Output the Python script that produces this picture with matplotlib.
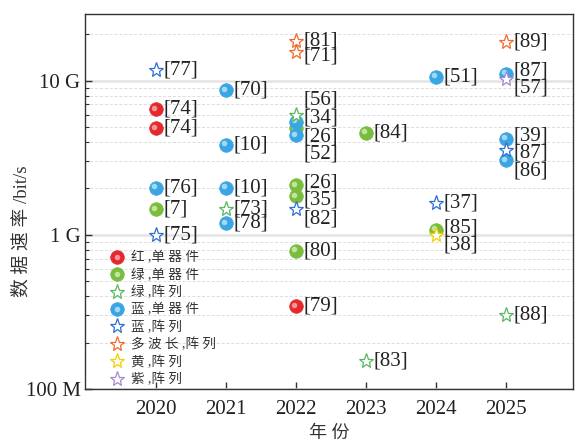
import matplotlib
matplotlib.use('Agg')
import matplotlib.pyplot as plt
from matplotlib.lines import Line2D
from matplotlib.legend_handler import HandlerTuple
from matplotlib.transforms import offset_copy
from matplotlib.ticker import FixedLocator, LogLocator, NullFormatter

# data: year, rate (bit/s), reference number
red_ball_year = [2020, 2020, 2022]
red_ball_rate = [6.5e9, 4.9e9, 0.345e9]
red_ball_ref = [74, 74, 79]

green_ball_year = [2020, 2022, 2022, 2022, 2022, 2023, 2024]
green_ball_rate = [1.47e9, 4.9e9, 2.09e9, 1.78e9, 0.79e9, 4.6e9, 1.08e9]
green_ball_ref = [7, 26, 26, 35, 80, 84, 85]

blue_ball_year = [2020, 2021, 2021, 2021, 2021, 2022, 2022, 2024, 2025, 2025, 2025]
blue_ball_rate = [2.02e9, 8.67e9, 3.85e9, 2.02e9, 1.19e9, 5.4e9, 4.43e9,
                  10.6e9, 11.1e9, 4.2e9, 3.05e9]
blue_ball_ref = [76, 70, 10, 10, 78, 34, 52, 51, 87, 39, 86]

green_star_year = [2021, 2022, 2023, 2025]
green_star_rate = [1.48e9, 5.97e9, 0.153e9, 0.30e9]
green_star_ref = [73, 56, 83, 88]

blue_star_year = [2020, 2020, 2022, 2024, 2025]
blue_star_rate = [11.7e9, 1.0e9, 1.48e9, 1.6e9, 3.54e9]
blue_star_ref = [77, 75, 82, 37, 87]

orange_star_year = [2022, 2022, 2025]
orange_star_rate = [18.1e9, 15.4e9, 17.9e9]
orange_star_ref = [81, 71, 89]

yellow_star_year = [2024]
yellow_star_rate = [1.0e9]
yellow_star_ref = [38]

purple_star_year = [2025]
purple_star_rate = [10.2e9]
purple_star_ref = [57]

years = [2020, 2021, 2022, 2023, 2024, 2025]

# label shifts in pixels for crowded stacks: (series, year, ref) -> dy
nudge = {
    ('gs', 2022, 56): 15, ('bb', 2022, 34): 4, ('gb', 2022, 26, 'hi'): -9,
    ('bb', 2022, 52): -19,
    ('os', 2022, 71): -4, ('gb', 2022, 26): 2, ('gb', 2022, 35): -4,
    ('bs', 2022, 82): -10,
    ('gb', 2024, 85): 2, ('ys', 2024, 38): -10,
    ('bb', 2025, 87): 3, ('ps', 2025, 57): -9, ('bb', 2025, 39): 3,
    ('bs', 2025, 87): -3, ('bb', 2025, 86): -11,
}

serif = ['Liberation Serif', 'Noto Sans CJK SC']

fig = plt.figure(figsize=(5.76, 4.45), dpi=100)
ax = fig.add_axes([0.1484, 0.1258, 0.8464, 0.8420])
ax.set_yscale('log')
ax.set_xlim(2019.0, 2025.96)
ax.set_ylim(1e8, 2.69e10)


def label(x, y, ref, dy=0):
    ax.annotate('[%d]' % ref, (x, y), xytext=(8, dy), textcoords='offset pixels',
                fontsize=15, family=serif, color='#222222', va='center', ha='left',
                zorder=6)


def get_dy(name, x, y, r):
    if name == 'gb' and x == 2022 and r == 26 and y > 3e9:
        return nudge[('gb', 2022, 26, 'hi')]
    return nudge.get((name, x, r), 0)


def balls(name, xs, ys, refs, color, hi, z):
    ax.plot(xs, ys, 'o', ms=9.8, mfc=color, mec=color, mew=0.5, zorder=z)
    tr = offset_copy(ax.transData, fig=fig, x=-1.5, y=1.5, units='dots')
    ax.plot(xs, ys, 'o', ms=4, mfc=hi, mec='none', alpha=0.9, transform=tr, zorder=z + 0.05)
    for x, y, r in zip(xs, ys, refs):
        label(x, y, r, get_dy(name, x, y, r))


def stars(name, xs, ys, refs, color, z):
    ax.plot(xs, ys, '*', ms=11, mfc='white', mec=color, mew=0.9, zorder=z)
    for x, y, r in zip(xs, ys, refs):
        label(x, y, r, get_dy(name, x, y, r))


RED, RED_HI = '#e5282c', '#f6a3a3'
GRN, GRN_HI = '#79bd3d', '#cbe8ae'
BLU, BLU_HI = '#39a5e3', '#b0def8'
GRN_S, BLU_S, ORG_S, YEL_S, PUR_S = '#58b85e', '#2d6fd3', '#f26a2b', '#f5cf00', '#a78ad0'

balls('rb', red_ball_year, red_ball_rate, red_ball_ref, RED, RED_HI, 3)
balls('gb', green_ball_year, green_ball_rate, green_ball_ref, GRN, GRN_HI, 3.2)
balls('bb', blue_ball_year, blue_ball_rate, blue_ball_ref, BLU, BLU_HI, 3.4)
stars('gs', green_star_year, green_star_rate, green_star_ref, GRN_S, 4)
stars('bs', blue_star_year, blue_star_rate, blue_star_ref, BLU_S, 4)
stars('os', orange_star_year, orange_star_rate, orange_star_ref, ORG_S, 4)
stars('ys', yellow_star_year, yellow_star_rate, yellow_star_ref, YEL_S, 4)
stars('ps', purple_star_year, purple_star_rate, purple_star_ref, PUR_S, 4)

# axes styling
ax.set_xticks(years)
ax.set_xticklabels([str(y) for y in years], family=serif, fontsize=15)
ax.yaxis.set_major_locator(FixedLocator([1e8, 1e9, 1e10]))
ax.set_yticklabels(['100 M', '1 G', '10 G'], family=serif, fontsize=15)
ax.yaxis.set_minor_locator(LogLocator(base=10, subs=range(2, 10)))
ax.yaxis.set_minor_formatter(NullFormatter())
ax.tick_params(axis='both', which='major', direction='in', length=5, width=1,
               color='#333333', labelcolor='#222222')
ax.tick_params(axis='y', which='minor', direction='in', length=3, width=0.8, color='#333333')
ax.tick_params(axis='x', which='major', pad=8)
ax.grid(True, axis='y', which='minor', color='#dcdcdc', ls=(0, (3, 2)), lw=0.7)
ax.grid(True, axis='y', which='major', color='#e4e4e4', ls='-', lw=1.8)
ax.set_axisbelow(True)
for s in ax.spines.values():
    s.set_color('#333333')
    s.set_linewidth(1.0)

ax.set_xlabel('年 份', family=serif, fontsize=13, color='#333333')
ax.xaxis.set_label_coords(0.5, -0.097)
ax.set_ylabel('数 据 速 率 /bit/s', family=serif, fontsize=13.5, color='#333333')
ax.yaxis.set_label_coords(-0.112, 0.42)


# legend
def ball_handle(c, h):
    return (Line2D([], [], marker='o', ls='', ms=9.8, mfc=c, mec=c, mew=0.5),
            Line2D([], [], marker='o', ls='', ms=4, mfc=h, mec='none', alpha=0.9))


def star_handle(c):
    return Line2D([], [], marker='*', ls='', ms=11, mfc='white', mec=c, mew=0.9)


handles = [ball_handle(RED, RED_HI), ball_handle(GRN, GRN_HI), star_handle(GRN_S),
           ball_handle(BLU, BLU_HI), star_handle(BLU_S), star_handle(ORG_S),
           star_handle(YEL_S), star_handle(PUR_S)]
names = ['红 ,单 器 件', '绿 ,单 器 件', '绿 ,阵 列', '蓝 ,单 器 件', '蓝 ,阵 列',
         '多 波 长 ,阵 列', '黄 ,阵 列', '紫 ,阵 列']
leg = ax.legend(handles, names, loc='lower left', bbox_to_anchor=(0.025, -0.026),
                frameon=False, handler_map={tuple: HandlerTuple(ndivide=1)},
                handlelength=1.0, handletextpad=0.55, labelspacing=0.30,
                prop={'family': serif, 'size': 9.8}, borderpad=0.4)
for t in leg.get_texts():
    t.set_color('#333333')
leg.set_zorder(7)

fig.savefig('out.png', dpi=100)
